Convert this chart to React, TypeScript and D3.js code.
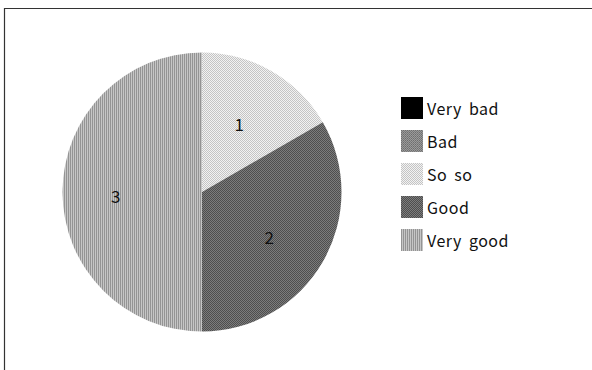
import React from "react";
import * as d3 from "d3";

const categories = ["Very bad", "Bad", "So so", "Good", "Very good"];
const values = [0, 0, 1, 2, 3];
const patternIds = ["pVeryBad", "pBad", "pSoSo", "pGood", "pVeryGood"];

export default function App() {
  const W = 592, H = 370;
  const cx = 202, cy = 192, R = 139.5;
  const pie = d3.pie<number>().sort(null).value((d) => d)(values);
  const arc = d3.arc<d3.PieArcDatum<number>>().innerRadius(0).outerRadius(R);
  const labelArc = d3.arc<d3.PieArcDatum<number>>().innerRadius(0).outerRadius(R * 1.18);
  const font = "'Noto Sans CJK KR', 'Noto Sans', sans-serif";
  return (
    <svg width={W} height={H} style={{ position: "absolute", left: 0, top: 0 }}>
      <defs>
        <pattern id="pVeryBad" width="2" height="2" patternUnits="userSpaceOnUse">
          <rect width="2" height="2" fill="#000" />
        </pattern>
        <pattern id="pBad" width="2" height="2" patternUnits="userSpaceOnUse">
          <rect width="2" height="2" fill="#9a9a9a" />
          <rect width="1" height="1" fill="#6e6e6e" />
          <rect x="1" y="1" width="1" height="1" fill="#7a7a7a" />
        </pattern>
        <pattern id="pSoSo" width="2" height="2" patternUnits="userSpaceOnUse">
          <rect width="2" height="2" fill="#f2f2f2" />
          <rect width="1" height="1" fill="#c4c4c4" />
          <rect x="1" y="1" width="1" height="1" fill="#c4c4c4" />
        </pattern>
        <pattern id="pGood" width="2" height="2" patternUnits="userSpaceOnUse">
          <rect width="2" height="2" fill="#7c7c7c" />
          <rect width="1" height="1" fill="#4e4e4e" />
          <rect x="1" y="1" width="1" height="1" fill="#4e4e4e" />
        </pattern>
        <pattern id="pVeryGood" width="2" height="2" patternUnits="userSpaceOnUse">
          <rect width="2" height="2" fill="#c6c6c6" />
          <rect width="1" height="2" fill="#949494" />
        </pattern>
      </defs>
      <rect x={0} y={0} width={W} height={H} fill="#fff" />
      <path d={`M4.5,${H} V8.5 H${W}`} fill="none" stroke="#333" strokeWidth={1.2} />
      <g transform={`translate(${cx},${cy})`}>
        {pie.map((d, i) =>
          d.value > 0 ? (
            <path key={i} d={arc(d) || ""} fill={`url(#${patternIds[i]})`} />
          ) : null
        )}
        {pie.map((d, i) => {
          if (d.value <= 0) return null;
          const [x, y] = labelArc.centroid(d);
          return (
            <text key={"l" + i} x={x - 4} y={y + 3} textAnchor="middle" dominantBaseline="central"
              fontFamily={font} fontSize={17} fill="#111">
              {d.value}
            </text>
          );
        })}
      </g>
      <g>
        {categories.map((c, i) => (
          <g key={c} transform={`translate(401,${97 + i * 33})`}>
            <rect width={22} height={22} fill={`url(#${patternIds[i]})`} />
            <text x={26} y={11} dominantBaseline="central" fontFamily={font} fontSize={16}
              letterSpacing={0.5} wordSpacing={3} fill="#111">
              {c}
            </text>
          </g>
        ))}
      </g>
    </svg>
  );
}
